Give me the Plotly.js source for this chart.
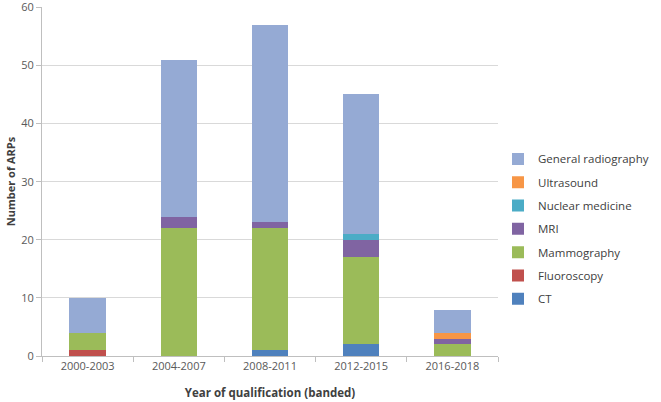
<!DOCTYPE html>
<html>
<head>
<meta charset="utf-8">
<script src="https://cdn.plot.ly/plotly-3.0.1.min.js"></script>
<style>html,body{margin:0;padding:0;background:#fff;}#chart{width:661px;height:402px;}</style>
</head>
<body>
<div id="chart"></div>
<script>
const categories = ["2000-2003", "2004-2007", "2008-2011", "2012-2015", "2016-2018"];
const ct = [0, 0, 1, 2, 0];
const fluoroscopy = [1, 0, 0, 0, 0];
const mammography = [3, 22, 21, 15, 2];
const mri = [0, 2, 1, 3, 1];
const nuclearMedicine = [0, 0, 0, 1, 0];
const ultrasound = [0, 0, 0, 0, 1];
const generalRadiography = [6, 27, 34, 24, 4];
const yTicks = [0, 10, 20, 30, 40, 50, 60];

const series = [
  {name: "CT", y: ct, color: "#4F81BD"},
  {name: "Fluoroscopy", y: fluoroscopy, color: "#C0504D"},
  {name: "Mammography", y: mammography, color: "#9BBB59"},
  {name: "MRI", y: mri, color: "#8064A2"},
  {name: "Nuclear medicine", y: nuclearMedicine, color: "#4BACC6"},
  {name: "Ultrasound", y: ultrasound, color: "#F79646"},
  {name: "General radiography", y: generalRadiography, color: "#95AAD4"}
];

const traces = series.map((s, i) => ({
  type: "bar", name: s.name, x: categories, y: s.y, legendgroup: s.name,
  legendrank: series.length - i,
  marker: {color: s.color, line: {width: 0}},
  hoverinfo: "x+y+name"
}));

const font = "Open Sans, Liberation Sans, Arial, sans-serif";
const layout = {
  width: 661, height: 402,
  margin: {l: 42, r: 138, t: 7, b: 46, pad: 0},
  barmode: "stack", bargap: 0.6,
  paper_bgcolor: "#fff", plot_bgcolor: "#fff",
  font: {family: font, size: 11, color: "#595959"},
  showlegend: true,
  legend: {traceorder: "grouped", x: 1.0, xanchor: "left", y: 0.364, yanchor: "middle",
           font: {size: 11.5, color: "#404040"}, itemwidth: 30, tracegroupgap: 4.3,
           bgcolor: "rgba(0,0,0,0)"},
  xaxis: {
    type: "category", showgrid: false, showline: true, linecolor: "#BFBFBF", linewidth: 1,
    ticks: "outside", tickson: "boundaries", ticklen: 5, tickcolor: "#BFBFBF",
    tickfont: {size: 11, color: "#595959"},
    title: {text: "<b>Year of qualification (banded)</b>", font: {size: 11.5, color: "#404040"}, standoff: 16}
  },
  yaxis: {
    range: [0, 60.05], tickmode: "array", tickvals: yTicks, ticktext: yTicks.map(String),
    ticklabeloverflow: "allow",
    showgrid: true, gridcolor: "#D9D9D9", gridwidth: 1,
    showline: true, linecolor: "#BFBFBF", linewidth: 1, zeroline: false,
    ticks: "outside", ticklen: 5, tickcolor: "#BFBFBF",
    tickfont: {size: 11, color: "#595959"},
    title: {text: "<b>Number of ARPs</b>", font: {size: 11, color: "#404040"}, standoff: 3}
  }
};

Plotly.newPlot("chart", traces, layout, {displayModeBar: false, staticPlot: true});
</script>
</body>
</html>
